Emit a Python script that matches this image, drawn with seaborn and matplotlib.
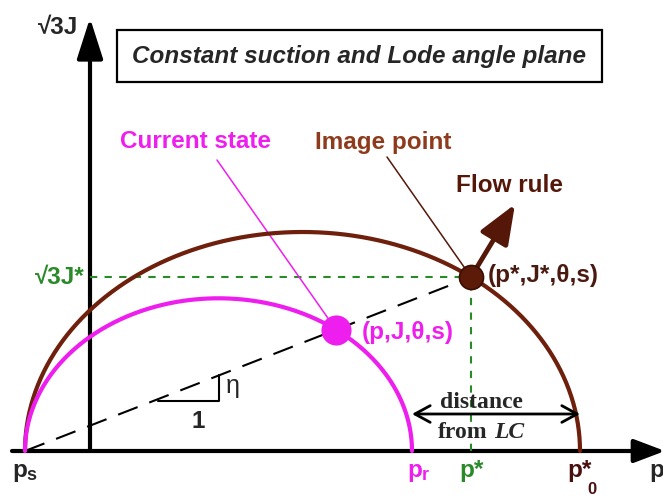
import numpy as np
import pandas as pd
import matplotlib
matplotlib.use("Agg")
import matplotlib.pyplot as plt
import seaborn as sns
from matplotlib.patches import Rectangle

# ---------------- data (schematic units, origin at axes crossing) ----------------
p_s = -65.0          # tensile strength point p_s
p_r = 322.0          # current-state loading surface intercept p_r
p0_star = 490.0      # image (yield) surface intercept p*_0
q_yield_top = 219.0  # height of yield surface (sqrt(3)J)
eta = 0.39           # stress ratio of the radial line from p_s
flow_len = 85.0      # length of flow-rule vector
p_axis = [-78.0, 575.0]
q_axis = [0.0, 433.0]

title = "Constant suction and Lode angle plane"
lbl_current = "Current state"
lbl_image = "Image point"
lbl_flow = "Flow rule"

# ---------------- style ----------------
sns.set_theme(style="white")
plt.rcParams["font.family"] = ["Liberation Sans", "DejaVu Sans"]

MAG = "#ee1eee"
BROWN = "#6e200c"
BROWN_T = "#8e3b1d"
DARK = "#551808"
GREEN = "#2a8a2a"

fig = plt.figure(figsize=(6.63, 4.97), dpi=100)
ax = fig.add_axes([0, 0, 1, 1])
ax.set_xlim(-90, 573)
ax.set_ylim(-46, 451)
ax.axis("off")


def P(px, py):
    """layout helper: picture pixel -> chart units"""
    return px - 90, 451 - py


# ---------------- geometry ----------------
t = np.linspace(0, np.pi, 400)
c = 0.5 * (p_s + p0_star)
a = 0.5 * (p0_star - p_s)
b = q_yield_top
yield_df = pd.DataFrame({"p": c + a * np.cos(t), "q": b * np.sin(t)})
k = (p_r - p_s) / (p0_star - p_s)
load_df = pd.DataFrame({"p": p_s + k * (yield_df["p"] - p_s), "q": k * yield_df["q"]})

u = (2 / a) / (1 / a**2 + eta**2 / b**2)
p_star, q_star = p_s + u, eta * u
p_cur, q_cur = p_s + k * u, k * q_star

# axes arrows
ax.annotate("", xy=(p_axis[1], 0), xytext=(p_axis[0], 0), annotation_clip=False,
            arrowprops=dict(arrowstyle="-|>,head_length=0.95,head_width=0.36",
                            mutation_scale=20, lw=3, color="black",
                            shrinkA=0, shrinkB=0), zorder=2)
ax.annotate("", xy=(0, q_axis[1]), xytext=(0, q_axis[0]), annotation_clip=False,
            arrowprops=dict(arrowstyle="-|>,head_length=1.25,head_width=0.4",
                            mutation_scale=20, lw=3, color="black",
                            shrinkA=0, shrinkB=0), zorder=2)

# radial dashed line
sns.lineplot(x=[p_s, p_star], y=[0, q_star], ax=ax, color="black", lw=1.5,
             dashes=False, sort=False, estimator=None, zorder=3).lines[-1].set_dashes((10, 6))

# green projection lines
gl = ax.plot([0, p_star], [q_star, q_star], color=GREEN, lw=1.5, zorder=2)[0]
gl.set_dashes((3.5, 3.5))
gl2 = ax.plot([p_star, p_star], [0, q_star], color=GREEN, lw=1.5, zorder=2)[0]
gl2.set_dashes((3.5, 3.5))

# surfaces
sns.lineplot(data=yield_df, x="p", y="q", ax=ax, color=BROWN, lw=3,
             sort=False, estimator=None, zorder=4)
sns.lineplot(data=load_df, x="p", y="q", ax=ax, color=MAG, lw=3,
             sort=False, estimator=None, zorder=4)

# slope triangle
tx0, tx1 = P(158, 0)[0], P(219, 0)[0]
ty = P(0, 401)[1]
ax.plot([tx0, tx1, tx1], [ty, ty, eta * (tx1 - p_s)], color="black", lw=1.5, zorder=3)
ax.text(*P(233, 386), "η", fontsize=18, ha="center", va="center")
ax.text(*P(198, 421), "1", fontsize=17.5, fontweight="bold", ha="center", va="center")

# leader lines
ax.plot([P(217, 160)[0], p_cur], [P(217, 160)[1], q_cur], color=MAG, lw=1.1, zorder=3)
ax.plot([P(387, 157)[0], p_star], [P(387, 157)[1], q_star], color=DARK, lw=1.1, zorder=3)

# flow rule arrow (normal to yield surface)
n = np.array([(p_star - c) / a**2, q_star / b**2])
n = n / np.linalg.norm(n)
ax.annotate("", xy=(p_star + flow_len * n[0], q_star + flow_len * n[1]), xytext=(p_star, q_star),
            arrowprops=dict(arrowstyle="-|>,head_length=1.2,head_width=0.48",
                            mutation_scale=20, lw=3.5, color=DARK,
                            shrinkA=0, shrinkB=0), zorder=5)

# points
sns.scatterplot(x=[p_cur], y=[q_cur], ax=ax, s=470, color=MAG, edgecolor=MAG,
                linewidth=0, zorder=6)
sns.scatterplot(x=[p_star], y=[q_star], ax=ax, s=300, color="#5c1a08", edgecolor="#3a0e04",
                linewidth=1.2, zorder=6)

# distance arrow
ax.annotate("", xy=(p0_star, P(0, 414)[1]), xytext=(p_r, P(0, 414)[1]),
            arrowprops=dict(arrowstyle="<->,head_length=0.55,head_width=0.3",
                            mutation_scale=20, lw=2, color="black",
                            shrinkA=0, shrinkB=0), zorder=5)
ax.text(*P(481, 402), "distance", fontsize=17, family="Liberation Serif",
        fontweight="bold", ha="center", va="center", zorder=6)
ax.text(*P(438, 432), "from", fontsize=17, family="Liberation Serif",
        fontweight="bold", ha="left", va="center", zorder=6)
ax.text(*P(494, 432), "LC", fontsize=17, family="Liberation Serif",
        fontweight="bold", style="italic", ha="left", va="center", zorder=6)

# title box
x0, y0 = P(117, 82)
x1, y1 = P(602, 30)
ax.add_patch(Rectangle((x0, y0), x1 - x0, y1 - y0, fill=True, facecolor="white",
                       edgecolor="black", lw=1.6, zorder=5))
ax.text(*P(359, 56), title, fontsize=17.5, fontweight="bold", style="italic",
        ha="center", va="center", zorder=6)

# labels
ax.text(*P(58, 28), "√3J", fontsize=17.5, fontweight="bold", ha="center", va="center")
ax.text(-5, q_star, "√3J*", fontsize=17.5, fontweight="bold", color=GREEN,
        ha="right", va="center")
ax.text(*P(195, 142), lbl_current, fontsize=17.5, fontweight="bold", color=MAG,
        ha="center", va="center")
ax.text(*P(383, 142), lbl_image, fontsize=17.5, fontweight="bold", color=BROWN_T,
        ha="center", va="center")
ax.text(*P(509, 185), lbl_flow, fontsize=17.5, fontweight="bold", color=DARK,
        ha="center", va="center")
ax.text(p_star + 17, q_star + 2, "(p*,J*,θ,s)", fontsize=17.5, fontweight="bold",
        color="#4a1a10", ha="left", va="center", zorder=6)
ax.text(p_cur + 26, q_cur - 3, "(p,J,θ,s)", fontsize=17.5, fontweight="bold",
        color=MAG, ha="left", va="center", zorder=6)

# axis tick labels
ylab = P(0, 470)[1]
ax.text(p_s - 13, ylab, "p", fontsize=17.5, fontweight="bold", ha="left", va="center")
ax.text(p_s + 1, ylab - 5, "s", fontsize=13, fontweight="bold", ha="left", va="center")
ax.text(p_r - 5, ylab, "p", fontsize=17.5, fontweight="bold", color=MAG, ha="left", va="center")
ax.text(p_r + 10, ylab - 5, "r", fontsize=13, fontweight="bold", color=MAG, ha="left", va="center")
ax.text(p_star, ylab, "p*", fontsize=17.5, fontweight="bold", color=GREEN, ha="center", va="center")
ax.text(p0_star - 13, ylab, "p*", fontsize=17.5, fontweight="bold", color="#4a1010",
        ha="left", va="center")
ax.text(p0_star + 7, ylab - 20, "0", fontsize=12, fontweight="bold", color="#4a1010",
        ha="left", va="center")
ax.text(*P(649, 470), "p", fontsize=17.5, fontweight="bold", ha="left", va="center")

fig.savefig("out.png", dpi=100)
